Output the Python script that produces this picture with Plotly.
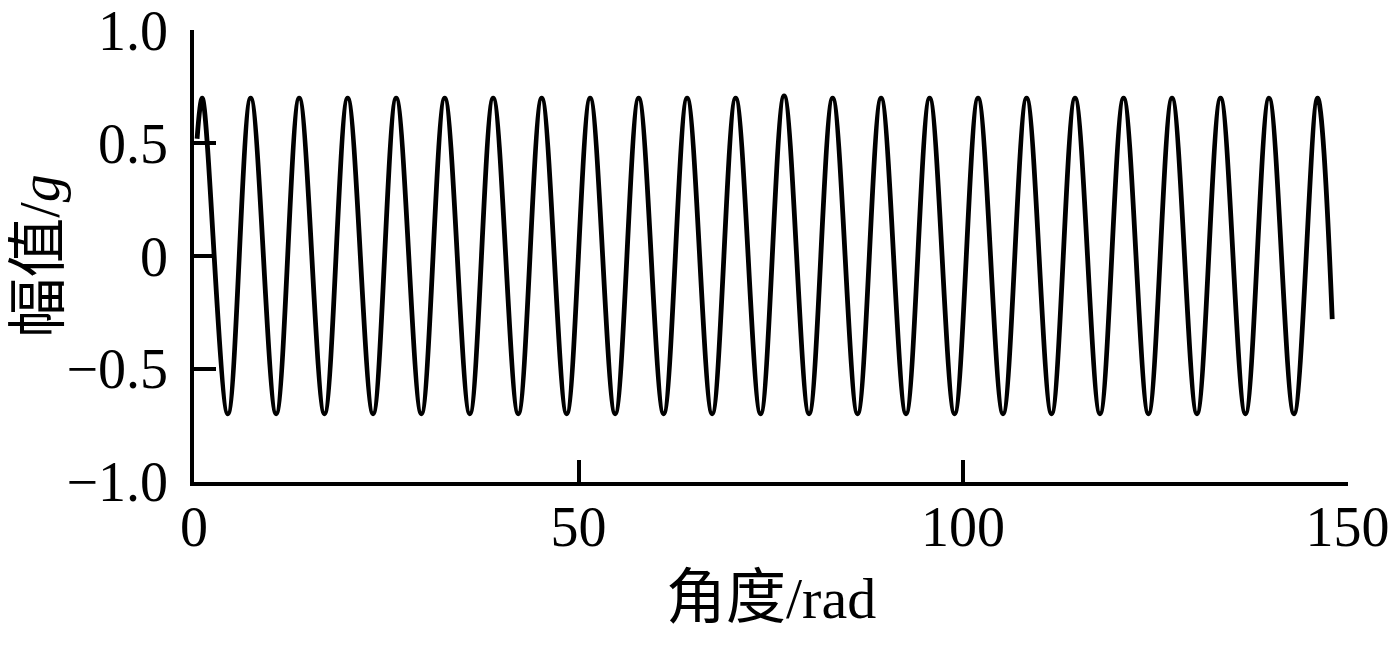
import plotly.graph_objects as go

# Values (x in rad, y in g)
start_x = [0.4]
start_y = [0.52]
peak_x = [1.07, 7.37, 13.68, 19.98, 26.29, 32.60, 38.90, 45.21, 51.51, 57.82, 64.12, 70.43,
          76.73, 83.04, 89.34, 95.65, 101.95, 108.26, 114.56, 120.87, 127.17, 133.48, 139.78, 146.09]
peak_y = [0.70, 0.70, 0.70, 0.70, 0.70, 0.70, 0.70, 0.70, 0.70, 0.70, 0.70, 0.70,
          0.71, 0.70, 0.70, 0.70, 0.70, 0.70, 0.70, 0.70, 0.70, 0.70, 0.70, 0.70]
trough_x = [4.40, 10.68, 16.96, 23.28, 29.56, 35.86, 42.16, 48.46, 54.76, 61.06, 67.37, 73.67,
            79.97, 86.28, 92.58, 98.89, 105.19, 111.50, 117.80, 124.10, 130.41, 136.71, 143.02]
trough_y = [-0.70] * 23
end_x = [148.0]
end_y = [-0.28]

x_ticks = [0, 50, 100, 150]
x_ticktext = ["0", "50", "100", "150"]
y_ticks = [1.0, 0.5, 0.0, -0.5, -1.0]
y_ticktext = ["1.0", "0.5", "0", "\u22120.5", "\u22121.0"]

# Order the extrema along x
xs = list(start_x)
ys = list(start_y)
for i in range(len(peak_x)):
    xs.append(peak_x[i]); ys.append(peak_y[i])
    if i < len(trough_x):
        xs.append(trough_x[i]); ys.append(trough_y[i])
xs += end_x
ys += end_y

FONT = "Liberation Serif, Times New Roman, Noto Sans CJK SC, serif"
CJK = '<span style="font-size:60px">{}</span>'

fig = go.Figure()
fig.add_trace(go.Scatter(x=xs, y=ys, mode="lines",
                         line=dict(color="black", width=4.8, shape="spline", smoothing=1.0),
                         showlegend=False, hoverinfo="skip"))

fig.update_layout(
    width=1399, height=646,
    margin=dict(l=185.5, r=59, t=22, b=172, autoexpand=False),
    plot_bgcolor="white", paper_bgcolor="white",
    font=dict(family=FONT, size=56, color="black"),
    xaxis=dict(range=[0, 150.05], tickvals=x_ticks, ticktext=x_ticktext, automargin=False,
               showgrid=False, zeroline=False, showline=True, linecolor="black", linewidth=3.5,
               ticks="inside", ticklen=22, tickwidth=3.5, tickcolor="black",
               ticklabeloverflow="allow",
               tickfont=dict(family=FONT, size=56), ticklabelstandoff=-7),
    yaxis=dict(range=[-1.002, 1.002], tickvals=y_ticks, ticktext=y_ticktext, automargin=False,
               showgrid=False, zeroline=False, showline=True, linecolor="black", linewidth=3.5,
               ticks="inside", ticklen=22, tickwidth=3.5, tickcolor="black",
               ticklabeloverflow="allow",
               tickfont=dict(family=FONT, size=56), ticklabelstandoff=11),
    annotations=[
        dict(text=CJK.format("角度") + "/rad", xref="paper", yref="paper", x=0.5, y=-0.2566,
             xanchor="center", yanchor="middle", showarrow=False,
             font=dict(family=FONT, size=58, color="black")),
        dict(text=CJK.format("幅值") + "/<i>g</i>", xref="paper", yref="paper", x=-0.1345, y=0.5,
             xanchor="center", yanchor="middle", showarrow=False, textangle=-90,
             font=dict(family=FONT, size=56, color="black")),
    ],
)

fig.write_html("out.html")
